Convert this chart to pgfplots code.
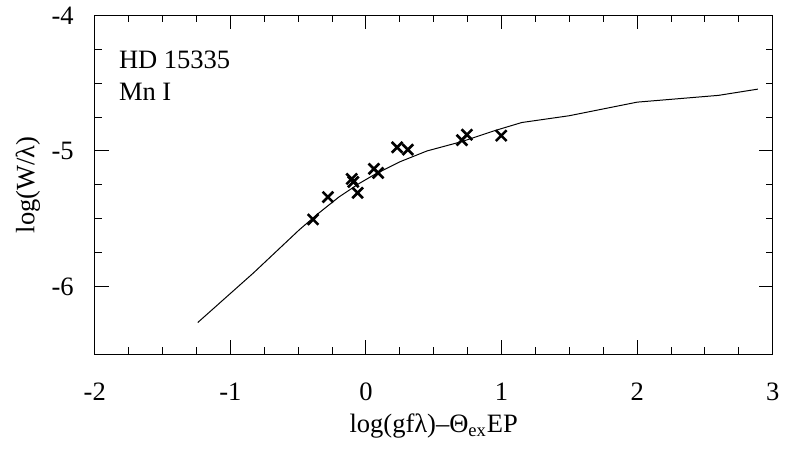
\documentclass[border=0pt]{standalone}
\usepackage{fontspec}
\setmainfont{Liberation Serif}
\usepackage{pgfplots}
\pgfplotsset{compat=1.18}

\begin{document}
\begin{tikzpicture}
\begin{axis}[
 name=ax,
 scale only axis,
 width=340pt,height=170pt,
 xmin=-2,xmax=3,ymin=-6.5,ymax=-4,
 xtick={-2,-1,0,1,2,3},
 ytick={-6,-5,-4},
 minor x tick num=3,
 minor y tick num=3,
 major tick length=7pt,
 minor tick length=3.5pt,
 tick style={line width=0.5pt,black},
 axis line style={line width=0.6pt},
 font=\fontsize{13.3}{15}\selectfont,
 /pgf/number format/assume math mode=true,
 x tick label style={yshift=-11pt},
 y tick label style={xshift=-7pt},
 xlabel={log(gfλ)–Θ\textsubscript{ex}EP},
 ylabel={log(W/λ)},
 xlabel style={at={([yshift=-36pt]axis description cs:0.5,0)},anchor=center},
 ylabel style={at={([xshift=-33.5pt]axis description cs:0,0.5)},anchor=center},
 clip=false,
]
% model curve of growth
\addplot[black,line width=0.5pt,mark=none] coordinates {
 (-1.24,-6.265) (-0.83,-5.90) (-0.49,-5.58) (-0.35,-5.46) (-0.20,-5.34)
 (-0.05,-5.24) (0.07,-5.17) (0.25,-5.08) (0.45,-5.00) (0.71,-4.93)
 (0.95,-4.85) (1.15,-4.79) (1.50,-4.74) (2.00,-4.64)
 (2.60,-4.59) (2.89,-4.544)
};
% Mn I lines
\addplot[only marks,mark=x,mark size=3.8pt,line width=1.3pt,black] coordinates {
 (-0.390,-5.505) (-0.280,-5.340) (-0.105,-5.206) (-0.093,-5.228)
 (-0.061,-5.309) (0.059,-5.132) (0.090,-5.162) (0.230,-4.973)
 (0.309,-4.990) (0.708,-4.920) (0.745,-4.880) (0.998,-4.887)
};
\node[anchor=base west,inner sep=0pt] at ([xshift=12pt,yshift=-26.5pt]rel axis cs:0,1) {HD 15335};
\node[anchor=base west,inner sep=0pt] at ([xshift=12pt,yshift=-42.5pt]rel axis cs:0,1) {Mn I};
\end{axis}
\path ([xshift=-47.5pt,yshift=-48pt]ax.south west) rectangle ([xshift=5.5pt,yshift=6pt]ax.north east);
\end{tikzpicture}
\end{document}
